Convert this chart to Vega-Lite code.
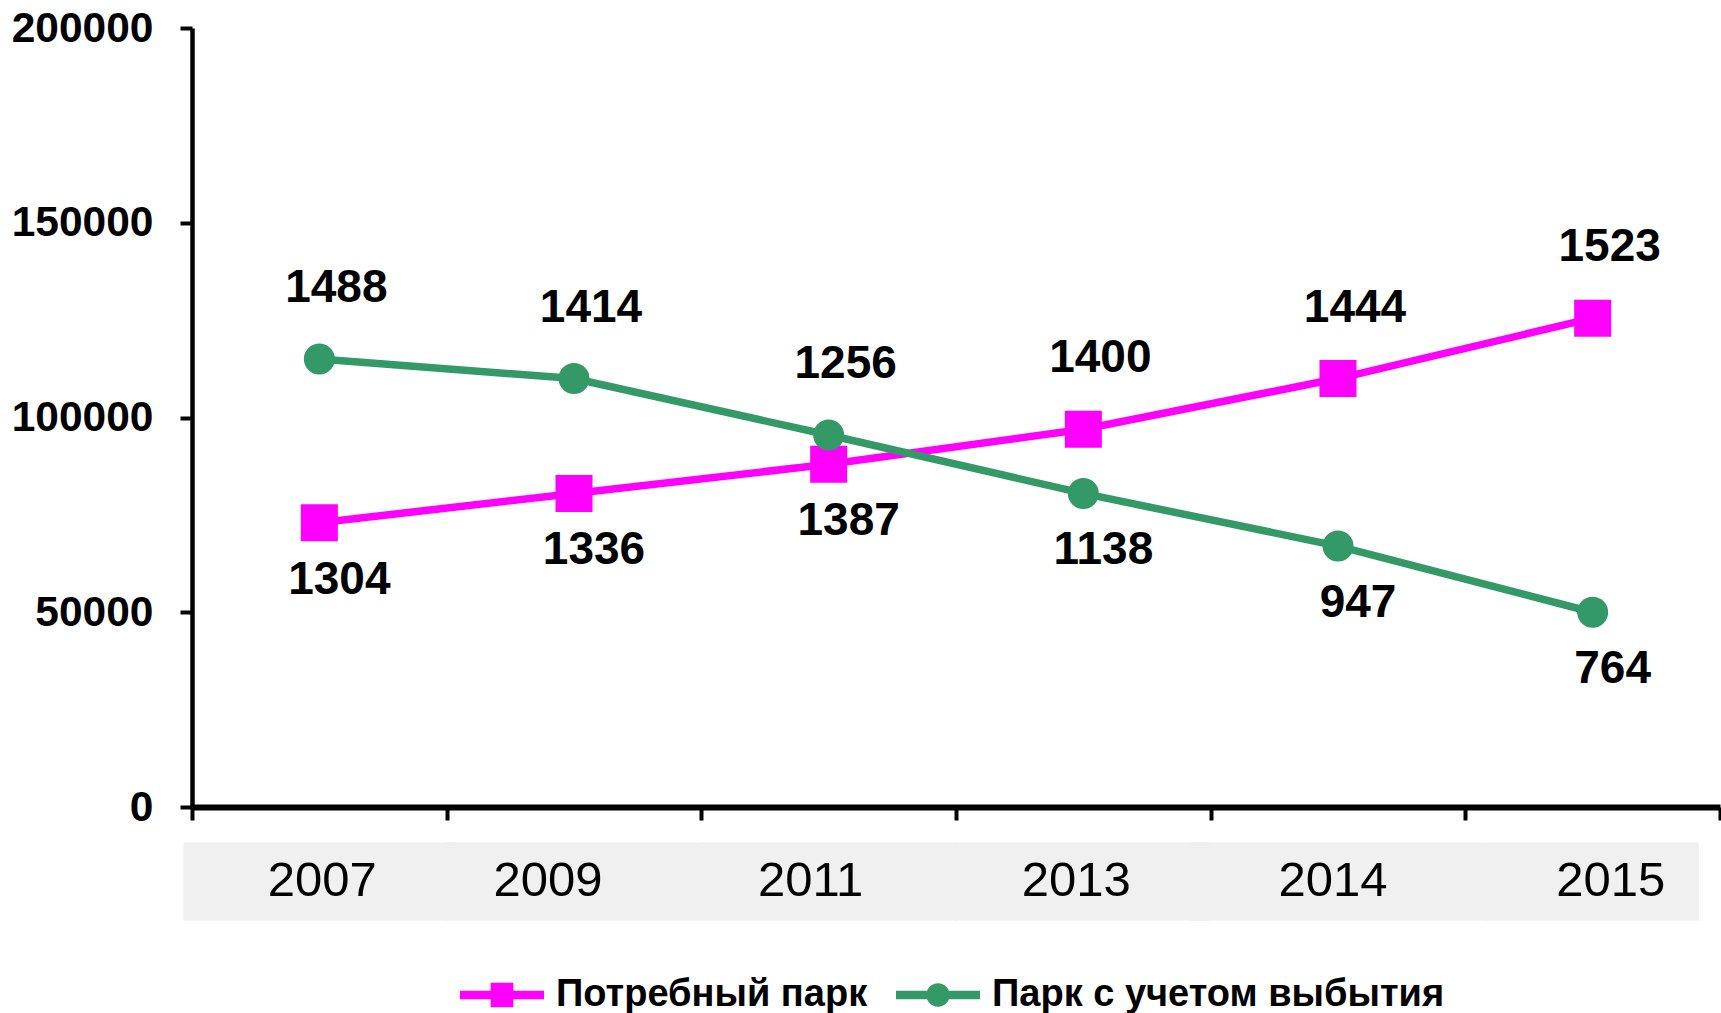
{
  "$schema": "https://vega.github.io/schema/vega-lite/v6.json",
  "width": 1528,
  "height": 779,
  "autosize": {"type": "none"},
  "padding": {"left": 192, "top": 28, "right": 1, "bottom": 206},
  "background": "white",
  "config": {"view": {"stroke": null}, "font": "Liberation Sans"},
  "data": {
    "values": [
      {"year": "2007", "series": "Потребный парк", "value": 73000, "label": "1304", "labelPos": "below"},
      {"year": "2009", "series": "Потребный парк", "value": 80500, "label": "1336", "labelPos": "below"},
      {"year": "2011", "series": "Потребный парк", "value": 88000, "label": "1387", "labelPos": "below"},
      {"year": "2013", "series": "Потребный парк", "value": 97000, "label": "1400", "labelPos": "above"},
      {"year": "2014", "series": "Потребный парк", "value": 110000, "label": "1444", "labelPos": "above"},
      {"year": "2015", "series": "Потребный парк", "value": 125500, "label": "1523", "labelPos": "above"},
      {"year": "2007", "series": "Парк с учетом выбытия", "value": 115000, "label": "1488", "labelPos": "above"},
      {"year": "2009", "series": "Парк с учетом выбытия", "value": 110000, "label": "1414", "labelPos": "above"},
      {"year": "2011", "series": "Парк с учетом выбытия", "value": 95500, "label": "1256", "labelPos": "above"},
      {"year": "2013", "series": "Парк с учетом выбытия", "value": 80500, "label": "1138", "labelPos": "below"},
      {"year": "2014", "series": "Парк с учетом выбытия", "value": 67000, "label": "947", "labelPos": "below"},
      {"year": "2015", "series": "Парк с учетом выбытия", "value": 50000, "label": "764", "labelPos": "below"}
    ]
  },
  "resolve": {"axis": {"x": "independent"}},
  "layer": [
    {
      "mark": {"type": "line", "strokeWidth": 7.5},
      "encoding": {
        "x": {
          "field": "year", "type": "ordinal",
          "scale": {"type": "band", "paddingInner": 0, "paddingOuter": 0},
          "axis": {
            "orient": "bottom", "title": null, "labels": false,
            "domainColor": "black", "domainWidth": 6,
            "ticks": true, "tickBand": "extent", "tickColor": "black", "tickWidth": 4, "tickSize": 13,
            "grid": false
          }
        },
        "y": {
          "field": "value", "type": "quantitative",
          "scale": {"domain": [0, 200000], "nice": false, "zero": true},
          "axis": {
            "title": null, "values": [0, 50000, 100000, 150000, 200000], "format": "d",
            "grid": false, "domainColor": "black", "domainWidth": 4.5,
            "tickColor": "black", "tickWidth": 4, "tickSize": 12,
            "labelFont": "Liberation Sans", "labelFontWeight": "bold", "labelFontSize": 42.5,
            "labelColor": "black", "labelPadding": 27
          }
        },
        "color": {
          "field": "series", "type": "nominal",
          "scale": {"domain": ["Потребный парк", "Парк с учетом выбытия"], "range": ["#FF00FF", "#339966"]},
          "legend": {
            "orient": "none", "legendX": 268, "legendY": 925,
            "direction": "horizontal", "title": null,
            "labelFont": "Liberation Sans", "labelFontWeight": "bold", "labelFontSize": 38,
            "labelColor": "black", "labelLimit": 0, "labelOffset": 12,
            "columnPadding": 28, "symbolSize": 7056, "symbolStrokeWidth": 0,
            "symbolType": "M-1,-0.1H1V0.1H-1Z",
            "encode": {
              "symbols": {
                "update": {
                  "shape": {"signal": "datum.value == 'Потребный парк' ? 'M-1,-0.1H1V0.1H-1Z M-0.27,-0.29H0.27V0.29H-0.27Z' : 'M-1,-0.1H1V0.1H-1Z M-0.28,0A0.28,0.28 0 1,1 0.28,0A0.28,0.28 0 1,1 -0.28,0Z'"},
                  "fill": {"signal": "scale('color', datum.value)"},
                  "fillOpacity": {"value": 1},
                  "strokeWidth": {"value": 0}
                }
              }
            }
          }
        }
      }
    },
    {
      "transform": [{"filter": "datum.series == 'Потребный парк'"}],
      "mark": {"type": "point", "shape": "square", "filled": true, "opacity": 1, "size": 1370},
      "encoding": {
        "x": {
          "field": "year", "type": "ordinal",
          "axis": {
            "orient": "bottom", "title": null, "offset": 35, "domain": false,
            "ticks": true, "bandPosition": 0.5, "tickColor": "#f0f0f0", "tickSize": 78,
            "tickWidth": {
              "condition": [
                {"test": "datum.value == '2007'", "value": 272},
                {"test": "datum.value == '2014'", "value": 300},
                {"test": "datum.value == '2015'", "value": 213}
              ],
              "value": 258
            },
            "labelFont": "Liberation Sans", "labelFontSize": 49, "labelColor": "black",
            "labelBaseline": "middle", "labelPadding": -40, "labelAngle": 0, "grid": false,
            "labelOffset": {
              "condition": [
                {"test": "datum.value == '2007'", "value": 3},
                {"test": "datum.value == '2009'", "value": -26},
                {"test": "datum.value == '2011'", "value": -18},
                {"test": "datum.value == '2013'", "value": -7},
                {"test": "datum.value == '2014'", "value": -5}
              ],
              "value": 18
            }
          }
        },
        "y": {"field": "value", "type": "quantitative"},
        "color": {"field": "series", "type": "nominal", "legend": null}
      }
    },
    {
      "transform": [{"filter": "datum.series == 'Парк с учетом выбытия'"}],
      "mark": {"type": "point", "shape": "circle", "filled": true, "opacity": 1, "size": 960},
      "encoding": {
        "x": {"field": "year", "type": "ordinal", "axis": null},
        "y": {"field": "value", "type": "quantitative"},
        "color": {"field": "series", "type": "nominal", "legend": null}
      }
    },
    {
      "transform": [{"filter": "datum.labelPos == 'above'"}],
      "mark": {"type": "text", "font": "Liberation Sans", "fontWeight": "bold", "fontSize": 46, "color": "black", "dx": 17, "dy": -71, "baseline": "middle", "align": "center"},
      "encoding": {
        "x": {"field": "year", "type": "ordinal", "axis": null},
        "y": {"field": "value", "type": "quantitative"},
        "text": {"field": "label"}
      }
    },
    {
      "transform": [{"filter": "datum.labelPos == 'below'"}],
      "mark": {"type": "text", "font": "Liberation Sans", "fontWeight": "bold", "fontSize": 46, "color": "black", "dx": 20, "dy": 57, "baseline": "middle", "align": "center"},
      "encoding": {
        "x": {"field": "year", "type": "ordinal", "axis": null},
        "y": {"field": "value", "type": "quantitative"},
        "text": {"field": "label"}
      }
    }
  ]
}
